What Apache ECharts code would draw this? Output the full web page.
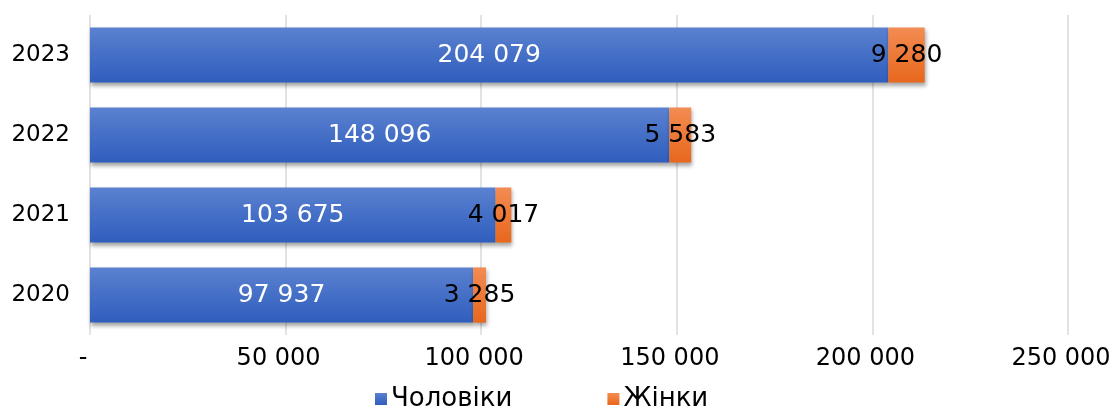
<!DOCTYPE html>
<html>
<head>
<meta charset="utf-8">
<script src="https://cdn.jsdelivr.net/npm/echarts@6/dist/echarts.min.js"></script>
<style>
html, body { margin: 0; padding: 0; background: #fff; }
#chart { width: 1115px; height: 407px; }
</style>
</head>
<body>
<div id="chart"></div>
<script>
// data
const years = ['2020', '2021', '2022', '2023'];
const men = [97937, 103675, 148096, 204079];
const women = [3285, 4017, 5583, 9280];
const seriesNames = ['Чоловіки', 'Жінки'];

const font = '"DejaVu Sans", sans-serif';

function fmt(v) {
    if (v === 0) return '-';
    return String(v).replace(/\B(?=(\d{3})+(?!\d))/g, ' ');
}

const chart = echarts.init(document.getElementById('chart'));
const shadow = {
    shadowColor: 'rgba(0,0,0,0.35)',
    shadowBlur: 4,
    shadowOffsetX: 1,
    shadowOffsetY: 3
};
const option = {
    animation: false,
    grid: { left: 90, right: 47, top: 15, bottom: 72 },
    legend: {
        bottom: -10,
        left: 370,
        itemWidth: 12,
        itemHeight: 12,
        itemGap: 95,
        icon: 'rect',
        textStyle: { fontSize: 26, color: '#000', fontFamily: font, padding: [0, 0, 0, -1] },
        data: seriesNames
    },
    xAxis: {
        type: 'value',
        min: 0,
        max: 250000,
        interval: 50000,
        axisLine: { show: false },
        axisTick: { show: false },
        splitLine: { lineStyle: { color: '#d9d9d9', width: 1.5 } },
        axisLabel: {
            fontSize: 24,
            color: '#000',
            fontFamily: font,
            margin: 12,
            padding: [0, 14, 0, 0],
            formatter: fmt
        }
    },
    yAxis: {
        type: 'category',
        data: years,
        axisLine: { show: false },
        axisTick: { show: false },
        axisLabel: { fontSize: 23, color: '#000', fontFamily: font, margin: 20 }
    },
    series: [
        {
            name: seriesNames[0],
            type: 'bar',
            stack: 'total',
            barCategoryGap: '31%',
            data: men,
            itemStyle: Object.assign({
                color: new echarts.graphic.LinearGradient(0, 0, 0, 1, [
                    { offset: 0, color: '#5b81d0' },
                    { offset: 1, color: '#2f5ebe' }
                ])
            }, shadow),
            label: {
                show: true,
                position: 'inside',
                color: '#fff',
                fontSize: 25,
                fontFamily: font,
                formatter: p => fmt(p.value)
            }
        },
        {
            name: seriesNames[1],
            type: 'bar',
            stack: 'total',
            data: women,
            itemStyle: Object.assign({
                color: new echarts.graphic.LinearGradient(0, 0, 0, 1, [
                    { offset: 0, color: '#f38c53' },
                    { offset: 1, color: '#e8671c' }
                ])
            }, shadow),
            label: {
                show: true,
                position: 'inside',
                color: '#000',
                fontSize: 25,
                fontFamily: font,
                formatter: p => fmt(p.value)
            }
        }
    ]
};
chart.setOption(option);
</script>
</body>
</html>
